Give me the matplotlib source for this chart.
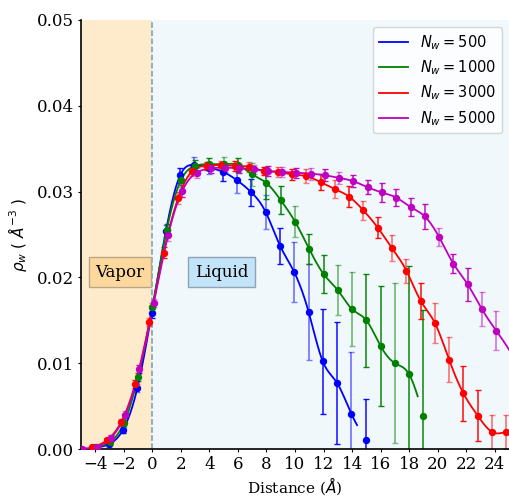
import numpy as np
import matplotlib
matplotlib.use("Agg")
import matplotlib.pyplot as plt

plt.rcParams['font.family'] = ['DejaVu Serif']
plt.rcParams['mathtext.fontset'] = 'dejavusans'

# ---------------- data ----------------
labels = [r'$N_w = 500$', r'$N_w = 1000$', r'$N_w = 3000$', r'$N_w = 5000$']
colors = ['b', 'g', 'r', 'm']

x_500 = [-4.05, -3.05, -2.05, -1.05, -0.05, 0.95, 1.95, 2.95, 3.95, 4.95,
         5.95, 6.95, 7.95, 8.95, 9.95, 10.95, 11.95, 12.95, 13.95, 14.95]
y_500 = [0.00015, 0.00055, 0.00225, 0.0071, 0.0158, 0.0254, 0.0319, 0.0331, 0.0328, 0.0323,
         0.0313, 0.0299, 0.0276, 0.0237, 0.0206, 0.0160, 0.0102, 0.0077, 0.0041, 0.0011]
e_500 = [0.0002, 0.0003, 0.0004, 0.0005, 0.0005, 0.0007, 0.0009, 0.0009, 0.0007, 0.0011,
         0.0015, 0.0016, 0.0020, 0.0021, 0.0035, 0.0056, 0.0061, 0.0071, 0.0072, 0.0047]

x_1000 = [-4, -3, -2, -1, 0, 1, 2, 3, 4, 5, 6, 7, 8, 9, 10, 11, 12, 13, 14, 15, 16, 17, 18, 19]
y_1000 = [0.0002, 0.00078, 0.0030, 0.0084, 0.0165, 0.0255, 0.0313, 0.0330, 0.0332, 0.0332,
          0.0331, 0.0320, 0.0310, 0.0290, 0.0265, 0.0233, 0.0204, 0.0185, 0.0163, 0.0150,
          0.0120, 0.0100, 0.0087, 0.0039]
e_1000 = [0.0002, 0.0003, 0.0004, 0.0005, 0.0005, 0.0007, 0.0008, 0.0007, 0.0007, 0.0008,
          0.0008, 0.0013, 0.0019, 0.0016, 0.0018, 0.0017, 0.0022, 0.0029, 0.0043, 0.0054,
          0.0070, 0.0093, 0.0126, 0.0123]

x_3000 = [-4.2, -3.2, -2.2, -1.2, -0.2, 0.8, 1.8, 2.8, 3.8, 4.8, 5.8, 6.8, 7.8, 8.8, 9.8,
          10.8, 11.8, 12.8, 13.8, 14.8, 15.8, 16.8, 17.8, 18.8, 19.8, 20.8, 21.8, 22.8, 23.8, 24.8]
y_3000 = [0.0002, 0.0010, 0.0031, 0.0076, 0.0148, 0.0229, 0.0292, 0.0324, 0.0330, 0.0331,
          0.0330, 0.0329, 0.0324, 0.0323, 0.0320, 0.0318, 0.0311, 0.0303, 0.0294, 0.0278,
          0.0258, 0.0234, 0.0208, 0.0173, 0.0147, 0.0104, 0.0065, 0.0039, 0.0020, 0.0020]
e_3000 = [0.0002, 0.0003, 0.0004, 0.0005, 0.0005, 0.0006, 0.0007, 0.0006, 0.0005, 0.0005,
          0.0006, 0.0006, 0.0005, 0.0006, 0.0006, 0.0008, 0.0009, 0.0011, 0.0012, 0.0011,
          0.0012, 0.0015, 0.0014, 0.0021, 0.0023, 0.0026, 0.0032, 0.0030, 0.0020, 0.0020]

x_5000 = [-4.9, -3.9, -2.9, -1.9, -0.9, 0.1, 1.1, 2.1, 3.1, 4.1, 5.1, 6.1, 7.1, 8.1, 9.1,
          10.1, 11.1, 12.1, 13.1, 14.1, 15.1, 16.1, 17.1, 18.1, 19.1, 20.1, 21.1, 22.1, 23.1, 24.1]
y_5000 = [0.00005, 0.00027, 0.0013, 0.0040, 0.0093, 0.0170, 0.0249, 0.0301, 0.0322, 0.0327,
          0.0328, 0.0327, 0.0326, 0.0324, 0.0323, 0.0322, 0.0321, 0.0319, 0.0316, 0.0312,
          0.0305, 0.0299, 0.0293, 0.0282, 0.0271, 0.0247, 0.0216, 0.0192, 0.0163, 0.0138]
e_5000 = [0.0001, 0.0002, 0.0003, 0.0004, 0.0005, 0.0005, 0.0006, 0.0007, 0.0006, 0.0005,
          0.0005, 0.0005, 0.0005, 0.0006, 0.0006, 0.0006, 0.0007, 0.0007, 0.0007, 0.0007,
          0.0008, 0.0011, 0.0010, 0.0011, 0.0015, 0.0010, 0.0011, 0.0019, 0.0020, 0.0023]

xticks = list(range(-4, 26, 2))
yticks = [0.00, 0.01, 0.02, 0.03, 0.04, 0.05]

# ---------------- style (not data) ----------------
curve_end = [14.35, 18.6, 25.3, 25.3]
light_500 = [0, 1, 0, 1, 0, 1, 0, 1, 1, 0, 1, 0, 1, 0, 1, 1, 0, 0, 1, 0]
light_1000 = [1, 0, 1, 0, 1, 0, 1, 0, 0, 1, 0, 1, 0, 0, 1, 0, 0, 1, 1, 0, 0, 1, 0, 0]
light_3000 = [1, 0, 1, 0, 1, 0, 1, 1, 0, 1, 0, 1, 0, 1, 0, 1, 0, 1, 0, 1, 0, 1, 1, 0, 1, 1, 0, 0, 1, 1]
light_5000 = [0, 1, 0, 1, 0, 1, 1, 0, 1, 0, 1, 0, 1, 0, 1, 0, 1, 0, 1, 0, 0, 0, 0, 0, 0, 1, 0, 0, 1, 1]


def natural_spline(x, y, xs):
    x = np.asarray(x, float)
    y = np.asarray(y, float)
    n = len(x)
    h = np.diff(x)
    A = np.zeros((n, n))
    r = np.zeros(n)
    A[0, 0] = 1.0
    A[-1, -1] = 1.0
    for i in range(1, n - 1):
        A[i, i - 1] = h[i - 1]
        A[i, i] = 2 * (h[i - 1] + h[i])
        A[i, i + 1] = h[i]
        r[i] = 3 * ((y[i + 1] - y[i]) / h[i] - (y[i] - y[i - 1]) / h[i - 1])
    c = np.linalg.solve(A, r)
    b = (y[1:] - y[:-1]) / h - h * (2 * c[:-1] + c[1:]) / 3
    d = (c[1:] - c[:-1]) / (3 * h)
    idx = np.clip(np.searchsorted(x, xs) - 1, 0, n - 2)
    dx = xs - x[idx]
    return y[idx] + b[idx] * dx + c[idx] * dx ** 2 + d[idx] * dx ** 3


fig = plt.figure(figsize=(5.09, 4.98), dpi=100)
ax = fig.add_axes([81 / 509, 49 / 498, 428 / 509, 429 / 498])

ax.axvspan(-5, 0, color='#FEEBCB', zorder=0, lw=0)
ax.axvspan(0, 25, color='#F0F8FC', zorder=0, lw=0)
ax.axvline(0, color='#5E94BC', ls='--', lw=1.1, alpha=0.9, zorder=1)

series = [(x_500, y_500, e_500, light_500),
          (x_1000, y_1000, e_1000, light_1000),
          (x_3000, y_3000, e_3000, light_3000),
          (x_5000, y_5000, e_5000, light_5000)]

for k, (xs, ys, es, lt) in enumerate(series):
    col = colors[k]
    xs_a = np.asarray(xs)
    ys_a = np.asarray(ys)
    es_a = np.asarray(es)
    lt_a = np.asarray(lt, bool)
    xx = np.linspace(xs_a[0], curve_end[k], 600)
    ax.plot(xx, natural_spline(xs_a, ys_a, xx), color=col, lw=1.3, label=labels[k], zorder=3)
    ax.errorbar(xs_a[~lt_a], ys_a[~lt_a], yerr=es_a[~lt_a], fmt='none', ecolor=col,
                elinewidth=1.1, capsize=2.5, capthick=1.0, alpha=0.95, zorder=2)
    ax.errorbar(xs_a[lt_a], ys_a[lt_a], yerr=es_a[lt_a], fmt='none', ecolor=col,
                elinewidth=1.3, capsize=2.5, capthick=1.0, alpha=0.5, zorder=2)
    ax.plot(xs_a, ys_a, 'o', color=col, ms=4.3, zorder=4)

ax.text(-2.28, 0.0206, 'Vapor', fontsize=12, ha='center', va='center', zorder=5,
        bbox=dict(boxstyle='square,pad=0.4', facecolor='#FDD89C', edgecolor='#BBA588', lw=1.0))
ax.text(4.85, 0.0206, 'Liquid', fontsize=12, ha='center', va='center', zorder=5,
        bbox=dict(boxstyle='square,pad=0.4', facecolor='#C2E3F8', edgecolor='#8FA3B3', lw=1.0))

ax.set_xlim(-5, 25)
ax.set_ylim(0, 0.05)
ax.set_xticks(xticks)
ax.set_yticks(yticks)
ax.set_yticklabels([f'{v:.2f}' for v in yticks])
ax.tick_params(labelsize=12, length=2.5, pad=2.5)
for s in ['top', 'right']:
    ax.spines[s].set_visible(False)
for s in ['left', 'bottom']:
    ax.spines[s].set_linewidth(1.2)

ax.set_xlabel(r'Distance ($\AA$)', fontsize=11, labelpad=2)
ax.set_ylabel(r'$\rho_w$ ( $\AA^{-3}$ )', fontsize=11, fontfamily='DejaVu Sans', labelpad=6)

leg = ax.legend(loc='upper right', fontsize=10.5, labelspacing=0.45, handlelength=2.0)

fig.savefig('out.png', dpi=100)
